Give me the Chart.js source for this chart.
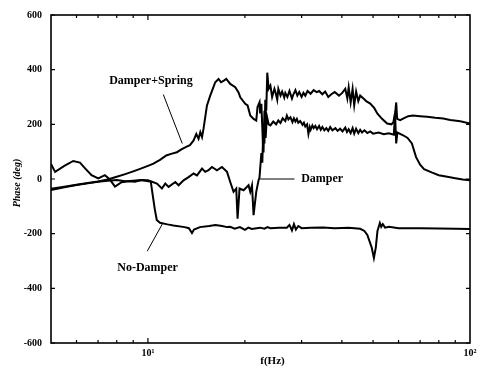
<!DOCTYPE html>
<html>
<head>
<meta charset="utf-8">
<script src="https://cdn.jsdelivr.net/npm/chart.js@4.4.1/dist/chart.umd.min.js"></script>
<style>
  html, body { margin: 0; padding: 0; background: #fff; }
  #wrap { width: 483px; height: 372px; }
</style>
</head>
<body>
<div id="wrap"><canvas id="phaseChart" width="483" height="372"></canvas></div>
<script>
// Phase vs frequency
const yTicks = [600, 400, 200, 0, -200, -400, -600];
const xTicks = [10, 100];

const springFreq = [5.0, 5.5, 6.0, 6.5, 7.0, 7.5, 8.0, 8.5, 9.0, 9.5, 10.0, 10.4, 10.9, 11.4, 11.8, 12.3, 12.7, 13.1, 13.5,
  13.86, 14.13, 14.36, 14.54, 14.72, 14.88, 15.25, 15.61, 16.18, 16.57, 16.86, 17.2, 17.51, 18.01, 18.67, 19.11, 19.35,
  20.05, 20.39, 20.78, 21.28, 21.69, 21.89, 22.21, 22.3, 22.5, 22.75, 22.85, 23.0, 23.2, 23.4, 23.7,
  24.0, 24.5, 25.0, 25.4, 25.8, 26.2, 26.7, 27.0, 27.3, 27.7, 28.1, 28.4, 28.7, 29.0, 29.3, 29.7, 30.2, 30.5, 30.8,
  31.2, 31.5, 31.8, 32.0, 32.4, 32.7, 33.1, 33.5, 34.0, 34.4, 34.8, 35.3, 35.8, 36.3, 36.8, 37.4, 38.2, 38.8, 39.5,
  40.2, 41.0, 41.5, 42.0, 42.6, 43.2, 43.7, 44.3, 45.0, 45.6, 46.2, 47.0, 48.0, 49.0, 50.0, 52.0, 54.0, 56.0, 58.0,
  58.5, 59.0, 59.5, 62.0, 64.0, 66.0, 68.0, 70.0, 72.0, 76.0, 80.0, 85.0, 90.0, 95.0, 100.0];
const springPhase = [-36, -28, -21, -15, -9, -2, 8, 18, 28, 38, 48, 56, 70, 86, 92, 98, 108, 117, 124,
  141, 165, 147, 171, 153, 184, 269, 305, 354, 366, 354, 360, 366, 348, 336, 317, 299,
  275, 269, 232, 220, 214, 263, 281, 240, 275, 130, 97, 250, 150, 230, 200,
  196, 210, 200, 214, 205, 222, 212, 232, 218, 226, 208, 222, 210, 220, 206, 212, 198, 206, 192,
  200, 165, 190, 180, 196, 186, 194, 182, 194, 180, 190, 178, 186, 176, 190, 178, 186, 176, 184,
  174, 188, 172, 182, 168, 186, 166, 184, 168, 180, 170, 178, 168, 174, 166, 170, 164, 167, 162,
  240, 130, 170, 160, 150, 130, 80, 52, 36, 24, 14, 8, 3, -2, -5];

const damperFreq = [5.0, 5.15, 5.5, 5.86, 6.15, 6.37, 6.68, 7.01, 7.35, 7.62, 7.9, 8.28, 8.7, 9.11, 9.55, 10.0,
  10.3, 10.66, 11.05, 11.32, 11.59, 12.16, 12.45, 12.9, 13.37, 13.86, 14.2, 14.72, 15.06, 15.42, 15.8, 16.38, 16.97,
  17.6, 18.01, 18.44, 18.8, 18.98, 19.25, 19.81, 20.53, 20.78, 21.04, 21.28, 21.69, 22.05, 22.2, 22.5, 22.65, 22.8,
  23.0, 23.14, 23.3, 23.47, 23.7, 24.0, 24.3, 24.7, 24.9, 25.2, 25.4, 25.8, 26.1, 26.5, 26.7, 27.1, 27.5, 28.0,
  28.3, 28.7, 29.1, 29.5, 30.0, 30.4, 30.8, 31.3, 32.0, 32.7, 33.4, 34.0, 34.8, 35.5, 36.3, 37.1, 38.0, 39.2, 40.1,
  41.0, 41.6, 42.0, 42.6, 43.2, 43.7, 44.3, 45.0, 45.6, 46.6, 47.6, 49.0, 50.4, 51.6, 53.3, 55.3, 57.0, 57.8, 58.6,
  59.0, 59.4, 60.7, 62.2, 64.3, 66.5, 70.0, 73.6, 78.0, 82.6, 86.8, 93.3, 100.0];
const damperPhase = [55, 26, 48, 66, 60, 40, 14, 2, 14, -2, -28, -12, -8, -10, -4, -8,
  -10, -17, -35, -17, -29, -11, -23, -5, 7, 20, 13, 38, 26, 32, 44, 32, 44,
  26, -11, -47, -35, -145, -35, -41, -23, -47, -23, -132, -47, -5, 5, 95, 60, 170,
  130, 290, 250, 389, 330, 342, 300, 330, 316, 290, 330, 305, 320, 298, 315, 300, 322, 294,
  310, 325, 305, 318, 300, 315, 305, 322, 312, 325, 318, 322, 310, 320, 300, 310, 318, 305, 315,
  330, 295, 335, 280, 330, 270, 320, 285, 305, 295, 285, 276, 260, 239, 220, 203, 200, 207, 245,
  280, 220, 215, 222, 230, 232, 230, 228, 224, 221, 216, 211, 203];

const noDamperFreq = [5.0, 5.5, 6.0, 6.5, 7.0, 7.5, 8.0, 8.5, 9.0, 9.5, 10.0, 10.2, 10.35, 10.5, 10.65, 10.9,
  11.5, 12.0, 13.0, 13.4, 13.7, 13.9, 14.5, 15.5, 16.2, 17.0, 17.6, 18.0, 18.6, 19.3, 20.0, 20.5, 21.0, 22.3, 23.0,
  23.5, 24.0, 25.5, 27.0, 27.5, 28.0, 28.4, 28.8, 29.3, 30.0, 32.0, 35.0, 38.0, 42.0, 45.6, 47.0, 48.0, 49.5, 50.3,
  51.0, 51.6, 52.5, 53.0, 53.6, 54.5, 56.0, 60.0, 65.0, 70.0, 80.0, 90.0, 100.0];
const noDamperPhase = [-40, -30, -22, -16, -10, -6, -4, -8, -6, -4, -5, -8, -60, -110, -150, -160,
  -166, -170, -176, -180, -198, -185, -176, -172, -168, -172, -176, -175, -182, -176, -186, -178, -183, -178, -182,
  -176, -180, -178, -178, -168, -188, -165, -185, -172, -180, -178, -177, -180, -178, -182, -190, -205, -250, -289,
  -250, -190, -161, -175, -165, -178, -175, -180, -180, -180, -181, -182, -183];

function pts(xs, ys) { return xs.map((x, i) => ({ x: x, y: ys[i] })); }

const serif = '"Liberation Serif", "DejaVu Serif", serif';

// frame, inward ticks, titles and the curve labels
const decorations = {
  id: 'decorations',
  afterDraw(chart) {
    const ctx = chart.ctx;
    const a = chart.chartArea;
    const xs = chart.scales.x, ys = chart.scales.y;
    const X = v => xs.getPixelForValue(v), Y = v => ys.getPixelForValue(v);
    ctx.save();
    ctx.strokeStyle = '#000';
    ctx.lineWidth = 1.6;
    ctx.strokeRect(a.left, a.top, a.right - a.left, a.bottom - a.top);
    ctx.lineWidth = 1.2;
    ctx.beginPath();
    yTicks.forEach(v => {
      ctx.moveTo(a.left, Y(v)); ctx.lineTo(a.left + 4, Y(v));
      ctx.moveTo(a.right, Y(v)); ctx.lineTo(a.right - 4, Y(v));
    });
    [6, 7, 8, 9, 10, 20, 30, 40, 50, 60, 70, 80, 90].forEach(v => {
      const len = (v === 10) ? 5 : 3;
      ctx.moveTo(X(v), a.bottom); ctx.lineTo(X(v), a.bottom - len);
      ctx.moveTo(X(v), a.top); ctx.lineTo(X(v), a.top + len);
    });
    ctx.stroke();

    // pointer lines
    ctx.lineWidth = 1;
    ctx.beginPath();
    ctx.moveTo(X(11.16), Y(309)); ctx.lineTo(X(12.78), Y(130));
    ctx.moveTo(X(22.3), Y(0)); ctx.lineTo(X(28.5), Y(0));
    ctx.moveTo(X(9.95), Y(-264)); ctx.lineTo(X(11.08), Y(-165));
    ctx.stroke();

    ctx.fillStyle = '#000';
    ctx.textBaseline = 'middle';
    ctx.textAlign = 'left';
    ctx.font = 'bold 12px ' + serif;
    ctx.fillText('Damper+Spring', X(7.58), Y(360));
    ctx.fillText('Damper', X(29.9), Y(0));
    ctx.fillText('No-Damper', X(8.03), Y(-326));

    ctx.textAlign = 'center';
    ctx.font = 'bold 11px ' + serif;
    ctx.fillText('f(Hz)', (a.left + a.right) / 2 + 12, 361);
    ctx.translate(17, (a.top + a.bottom) / 2 + 4);
    ctx.rotate(-Math.PI / 2);
    ctx.font = 'italic bold 10px ' + serif;
    ctx.fillText('Phase (deg)', 0, 0);
    ctx.restore();
  }
};

const lineStyle = { borderColor: '#000', borderWidth: 2, pointRadius: 0, fill: false, tension: 0 };

new Chart(document.getElementById('phaseChart'), {
  type: 'line',
  data: {
    datasets: [
      Object.assign({ label: 'Damper+Spring', data: pts(springFreq, springPhase) }, lineStyle),
      Object.assign({ label: 'Damper', data: pts(damperFreq, damperPhase) }, lineStyle),
      Object.assign({ label: 'No-Damper', data: pts(noDamperFreq, noDamperPhase) }, lineStyle)
    ]
  },
  options: {
    responsive: false,
    animation: false,
    layout: { padding: { top: 14, right: 13, left: 0, bottom: 0 } },
    plugins: { legend: { display: false }, tooltip: { enabled: false } },
    scales: {
      x: {
        type: 'logarithmic',
        min: 5, max: 100,
        grid: { display: false, drawTicks: false },
        border: { display: false },
        afterBuildTicks: s => { s.ticks = xTicks.map(v => ({ value: v })); },
        afterFit: s => { s.height = 29; },
        ticks: {
          color: '#000', padding: 4, maxRotation: 0, autoSkip: false,
          font: { family: serif, size: 10, weight: 'bold' },
          callback: v => (v === 10 ? '10\u00B9' : v === 100 ? '10\u00B2' : '')
        }
      },
      y: {
        min: -600, max: 600,
        grid: { display: false, drawTicks: false },
        border: { display: false },
        afterBuildTicks: s => { s.ticks = yTicks.map(v => ({ value: v })); },
        afterFit: s => { s.width = 51; },
        ticks: {
          color: '#000', padding: 9,
          font: { family: serif, size: 10, weight: 'bold' }
        }
      }
    }
  },
  plugins: [decorations]
});
</script>
</body>
</html>
